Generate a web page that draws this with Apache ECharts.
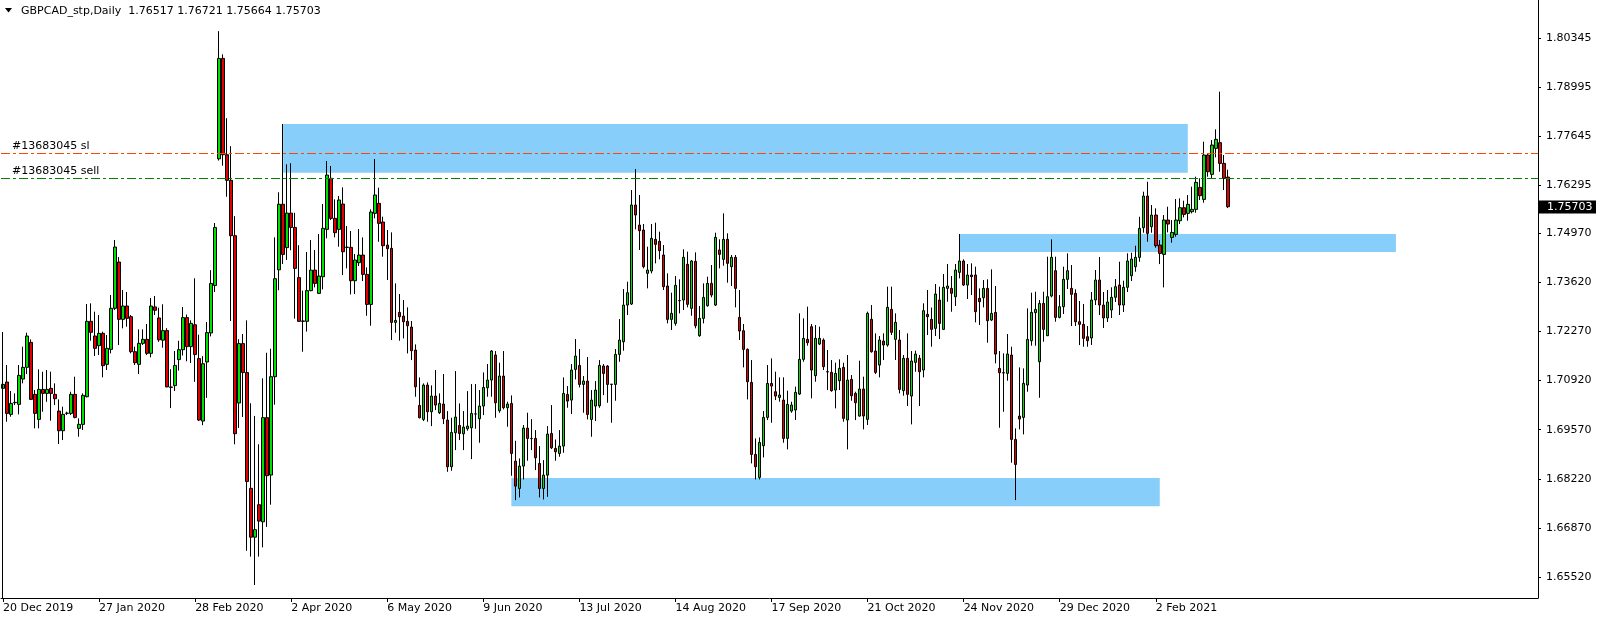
<!DOCTYPE html>
<html><head><meta charset="utf-8">
<script src="https://cdn.jsdelivr.net/npm/echarts@6/dist/echarts.min.js"></script>
<style>html,body{margin:0;padding:0;background:#fff}#c{width:1604px;height:620px}</style>
</head><body><div id="c"></div>
<script>
const symbolName = 'GBPCAD_stp,Daily';
const opens = [1.70707,1.70881,1.69992,1.70313,1.70267,1.70964,1.71285,1.71972,1.70542,1.69854,
1.70679,1.70569,1.70707,1.70542,1.70083,1.69542,1.70019,1.70019,1.70542,1.69607,
1.69717,1.70478,1.72550,1.72147,1.71881,1.72220,1.71367,1.71780,1.72908,1.74182,
1.72605,1.72972,1.72679,1.71716,1.71367,1.71945,1.72055,1.71670,1.72947,1.72643,
1.72033,1.72296,1.70735,1.70784,1.71498,1.71770,1.72653,1.71855,1.72456,1.71526,
1.69808,1.71432,1.72230,1.73535,1.77019,1.79780,1.77132,1.76428,1.74906,1.70305,
1.71939,1.71141,1.67958,1.66615,1.67508,1.67038,1.69902,1.68324,1.71028,1.73967,
1.75770,1.74578,1.75526,1.75132,1.73752,1.72550,1.72550,1.73395,1.73961,1.73319,
1.73777,1.75080,1.76483,1.75382,1.75080,1.75776,1.74584,1.74584,1.73667,1.74163,
1.74373,1.73842,1.73016,1.75520,1.75795,1.75281,1.74649,1.74557,1.72521,1.72796,
1.72695,1.72549,1.72393,1.71760,1.70238,1.69853,1.70797,1.70064,1.70495,1.70036,
1.70275,1.69834,1.68551,1.69486,1.69688,1.69458,1.69596,1.69623,1.69999,1.69871,
1.70220,1.70724,1.70935,1.71623,1.70091,1.71045,1.70174,1.70293,1.68706,1.67955,
1.68569,1.69614,1.69330,1.69330,1.68642,1.67955,1.68321,1.69468,1.69055,1.68917,
1.69119,1.70540,1.70385,1.71228,1.71338,1.70816,1.70907,1.69853,1.70220,1.70229,
1.71320,1.71320,1.70816,1.70816,1.71641,1.71989,1.72998,1.73026,1.75749,1.75199,
1.75062,1.73870,1.73934,1.74805,1.74750,1.74374,1.73521,1.72604,1.72494,1.73118,
1.73136,1.74117,1.72907,1.74200,1.72155,1.72632,1.72980,1.73594,1.72998,1.74512,
1.74255,1.74805,1.74053,1.74310,1.72659,1.72292,1.71779,1.70871,1.68890,1.68258,
1.69129,1.69908,1.70843,1.70614,1.70459,1.70386,1.69331,1.70083,1.70111,1.70551,
1.71505,1.72055,1.72403,1.71055,1.71926,1.72036,1.71165,1.71147,1.70661,1.70918,
1.71284,1.69836,1.70954,1.70569,1.69946,1.70688,1.69854,1.72605,1.71734,1.71349,
1.72009,1.71899,1.72880,1.72055,1.72036,1.70643,1.71532,1.70496,1.71422,1.71532,
1.71211,1.72742,1.72605,1.72357,1.73136,1.72329,1.73457,1.73457,1.73228,1.73897,
1.74209,1.73549,1.73824,1.73824,1.73182,1.73200,1.73457,1.72586,1.72797,1.71256,
1.71137,1.71119,1.71623,1.69303,1.69945,1.69908,1.70798,1.72017,1.72788,1.71440,
1.73044,1.72155,1.73246,1.73943,1.72659,1.72953,1.73705,1.73457,1.73320,1.72540,
1.72467,1.72127,1.72092,1.73137,1.73687,1.72999,1.72642,1.72862,1.73211,1.73549,
1.72999,1.73486,1.73805,1.74053,1.74309,1.75125,1.75996,1.75152,1.75473,1.74648,
1.74391,1.75336,1.74859,1.74941,1.75317,1.75675,1.75519,1.75565,1.75629,1.76234,
1.75904,1.77124,1.76592,1.77307,1.77463,1.76894,1.76517];
const highs = [1.71028,1.71349,1.70634,1.70569,1.71349,1.71853,1.72238,1.72055,1.70661,1.71230,
1.71166,1.71211,1.71166,1.70845,1.70404,1.70203,1.70065,1.70615,1.71028,1.69882,
1.70569,1.73027,1.73045,1.72816,1.72724,1.72266,1.72174,1.73275,1.74787,1.74319,
1.73412,1.73357,1.72724,1.71853,1.72330,1.72330,1.72477,1.73192,1.73247,1.72925,
1.73019,1.72362,1.71235,1.71733,1.72014,1.72944,1.72737,1.72578,1.73733,1.72183,
1.71592,1.72531,1.73958,1.75254,1.80531,1.79892,1.78137,1.77367,1.75442,1.72061,
1.72202,1.72578,1.70296,1.69949,1.69169,1.70982,1.71686,1.71798,1.74860,1.76099,
1.77977,1.76869,1.76897,1.75536,1.74644,1.73395,1.74456,1.74785,1.74511,1.74951,
1.75776,1.76959,1.76822,1.75905,1.75997,1.76235,1.75171,1.75034,1.74401,1.75089,
1.74859,1.74034,1.75630,1.77014,1.76226,1.75428,1.75061,1.74997,1.73594,1.73301,
1.73136,1.72934,1.72558,1.71916,1.71008,1.70843,1.70871,1.70788,1.71210,1.70568,
1.71100,1.70082,1.69899,1.71182,1.70293,1.70082,1.70632,1.70825,1.70825,1.70660,
1.71146,1.71375,1.71760,1.71733,1.71412,1.71733,1.70339,1.70513,1.69266,1.68780,
1.69697,1.70036,1.69862,1.69559,1.69119,1.68734,1.69669,1.70247,1.69302,1.69559,
1.71008,1.70770,1.71375,1.72063,1.71788,1.71045,1.71568,1.70660,1.70907,1.71485,
1.71375,1.71347,1.70825,1.71788,1.72613,1.73438,1.73640,1.76162,1.76740,1.76025,
1.75227,1.74603,1.75227,1.75263,1.75016,1.74649,1.73870,1.73338,1.73796,1.73705,
1.74530,1.74466,1.74236,1.74447,1.72971,1.73594,1.73778,1.74099,1.74988,1.74805,
1.75520,1.74970,1.74374,1.74374,1.73411,1.72476,1.71806,1.71485,1.69330,1.69358,
1.70083,1.71348,1.71531,1.71165,1.71009,1.71009,1.70643,1.70340,1.70753,1.72770,
1.72632,1.72953,1.72477,1.72449,1.72403,1.72082,1.71761,1.71486,1.71413,1.71505,
1.71413,1.71624,1.71074,1.70615,1.71468,1.71028,1.72816,1.72999,1.72220,1.72146,
1.72220,1.73504,1.73504,1.72770,1.72311,1.71624,1.72220,1.71734,1.71743,1.71624,
1.73045,1.73412,1.72930,1.73576,1.73503,1.73851,1.74127,1.73796,1.74127,1.74952,
1.74255,1.74127,1.74145,1.74053,1.73457,1.73686,1.73705,1.73980,1.73521,1.71733,
1.71669,1.72201,1.71852,1.69606,1.71284,1.71256,1.72907,1.73338,1.73365,1.73136,
1.73365,1.74328,1.74805,1.74328,1.73274,1.74053,1.74420,1.74099,1.73430,1.73109,
1.73026,1.72421,1.73357,1.73962,1.74320,1.73357,1.73412,1.73486,1.73715,1.74190,
1.73668,1.74421,1.74438,1.74630,1.75427,1.76115,1.76390,1.75748,1.75657,1.74785,
1.75473,1.75702,1.75336,1.75913,1.75932,1.75867,1.76023,1.76253,1.76528,1.76482,
1.77491,1.77170,1.77536,1.77830,1.78866,1.77124,1.76721];
const lows = [1.70615,1.69790,1.69928,1.70248,1.69992,1.70845,1.71101,1.70386,1.69607,1.69607,
1.70065,1.70340,1.69818,1.70248,1.69176,1.69286,1.69973,1.69973,1.69882,1.69377,
1.69561,1.70459,1.72018,1.71596,1.71624,1.71010,1.71211,1.71670,1.72862,1.71899,
1.72358,1.72403,1.71670,1.71349,1.71101,1.71899,1.71624,1.71560,1.72724,1.71986,
1.71826,1.70740,1.70164,1.70634,1.71197,1.71610,1.71451,1.71404,1.70887,1.69808,
1.69695,1.70446,1.72136,1.73357,1.76972,1.76831,1.75977,1.72559,1.69169,1.69620,
1.69920,1.66240,1.66080,1.65300,1.66080,1.66333,1.66897,1.67508,1.70258,1.73404,
1.74127,1.74240,1.74503,1.72625,1.72540,1.71714,1.72268,1.73376,1.73484,1.73301,
1.73429,1.74832,1.75336,1.74860,1.74603,1.73823,1.74007,1.73291,1.73301,1.74071,
1.73658,1.72704,1.72429,1.75382,1.74740,1.74328,1.73686,1.72035,1.72237,1.72017,
1.72081,1.71668,1.71485,1.70476,1.69880,1.69807,1.69789,1.69669,1.70109,1.70000,
1.69724,1.68413,1.68441,1.69009,1.69284,1.69009,1.69541,1.68761,1.69596,1.69211,
1.69972,1.70476,1.70476,1.69899,1.70036,1.70128,1.69651,1.68303,1.67634,1.67707,
1.68202,1.68716,1.69009,1.68459,1.67707,1.67652,1.67725,1.69037,1.68716,1.68826,
1.68936,1.70174,1.69999,1.70953,1.70733,1.70036,1.69853,1.69376,1.69807,1.70174,
1.70522,1.70311,1.69761,1.70366,1.71439,1.71742,1.72723,1.72998,1.75080,1.74512,
1.74007,1.73457,1.73870,1.74145,1.74255,1.73411,1.72494,1.72311,1.72430,1.72769,
1.72861,1.72934,1.72705,1.72357,1.72127,1.72494,1.72953,1.73209,1.72971,1.74007,
1.74081,1.73613,1.73521,1.72934,1.72036,1.71284,1.70403,1.68643,1.68202,1.68202,
1.68808,1.69835,1.69761,1.70385,1.70340,1.69212,1.69029,1.70037,1.69836,1.70523,
1.71440,1.71881,1.70432,1.70890,1.71899,1.71211,1.70661,1.70615,1.70157,1.70661,
1.69790,1.69029,1.70367,1.69836,1.69927,1.69579,1.69698,1.71688,1.71101,1.71009,
1.71486,1.71853,1.72174,1.71486,1.70569,1.70505,1.70221,1.69716,1.71165,1.70221,
1.71009,1.72174,1.71853,1.72146,1.72063,1.72311,1.73090,1.72815,1.72971,1.73732,
1.73521,1.73164,1.73274,1.72522,1.72448,1.72934,1.71962,1.72558,1.71394,1.69624,
1.70064,1.70917,1.68661,1.67634,1.69578,1.69441,1.70614,1.71880,1.71880,1.70449,
1.71990,1.72146,1.73210,1.72540,1.72632,1.72751,1.73439,1.72421,1.72421,1.71898,
1.71852,1.71852,1.71900,1.72999,1.72724,1.72367,1.72532,1.72642,1.73082,1.72724,
1.72807,1.73357,1.73660,1.73915,1.74189,1.74987,1.74740,1.74987,1.74574,1.74125,
1.73483,1.74996,1.74712,1.74877,1.75226,1.75409,1.75317,1.75519,1.75537,1.75886,
1.75812,1.76528,1.76464,1.77060,1.76665,1.76161,1.75664];
const closes = [1.70817,1.70019,1.70294,1.70322,1.71065,1.71285,1.72147,1.70404,1.70019,1.70679,
1.70569,1.70679,1.70569,1.70423,1.69542,1.69992,1.70025,1.70542,1.69909,1.69717,
1.70514,1.72550,1.72248,1.71807,1.72220,1.71331,1.71807,1.72908,1.74594,1.72605,
1.72972,1.72633,1.71716,1.71413,1.71945,1.72055,1.71670,1.72972,1.72854,1.72042,
1.72296,1.70747,1.70745,1.71338,1.71770,1.72653,1.71855,1.72493,1.71639,1.69836,
1.71385,1.72240,1.73592,1.75132,1.79780,1.77132,1.76428,1.74906,1.69460,1.71939,
1.71141,1.68146,1.66615,1.66822,1.67057,1.69902,1.68305,1.71028,1.73723,1.75770,
1.74390,1.75526,1.75132,1.74005,1.72550,1.72560,1.73395,1.73958,1.73594,1.73796,
1.75107,1.76574,1.75382,1.74988,1.75887,1.74465,1.74590,1.73667,1.74236,1.74373,
1.73842,1.73016,1.75556,1.76024,1.75245,1.74630,1.74548,1.72521,1.72576,1.72677,
1.72540,1.72429,1.71742,1.70751,1.69899,1.70797,1.70064,1.70495,1.70247,1.70293,
1.69871,1.68551,1.69495,1.69917,1.69467,1.69642,1.69669,1.70018,1.70005,1.70220,
1.70733,1.70935,1.71733,1.70311,1.71045,1.70174,1.70275,1.68917,1.68019,1.68569,
1.69614,1.69330,1.69325,1.68798,1.67955,1.68321,1.69449,1.69073,1.68963,1.69119,
1.70568,1.70357,1.71210,1.71595,1.70816,1.70907,1.69990,1.70385,1.70660,1.71338,
1.71118,1.70816,1.70822,1.71641,1.72035,1.72998,1.73338,1.75749,1.75474,1.75043,
1.74053,1.73961,1.74832,1.74667,1.74493,1.73503,1.72604,1.72769,1.73540,1.73124,
1.74310,1.73017,1.74209,1.72430,1.72632,1.73209,1.73594,1.73274,1.74860,1.74392,
1.74805,1.74145,1.74310,1.73457,1.72283,1.71779,1.70889,1.68890,1.68551,1.69220,
1.69908,1.70843,1.70770,1.70495,1.70523,1.69331,1.70267,1.70248,1.70597,1.71505,
1.72082,1.71963,1.71211,1.72082,1.72082,1.71303,1.71160,1.70643,1.71119,1.71257,
1.69881,1.70936,1.70505,1.70312,1.70688,1.69946,1.72770,1.71715,1.71147,1.72036,
1.71899,1.72935,1.72247,1.72522,1.70679,1.71532,1.70542,1.71459,1.71651,1.71165,
1.72843,1.72678,1.72330,1.73301,1.72494,1.73485,1.73521,1.73320,1.73961,1.74209,
1.73549,1.73824,1.73778,1.72815,1.73090,1.73457,1.72568,1.72769,1.71651,1.71137,
1.71130,1.71651,1.69303,1.68615,1.69863,1.70844,1.72054,1.72797,1.72879,1.73044,
1.72329,1.73228,1.74310,1.72659,1.72953,1.73705,1.73943,1.73292,1.72540,1.72467,
1.72082,1.72017,1.73137,1.73687,1.72999,1.72642,1.73082,1.73211,1.73503,1.72999,
1.73486,1.74209,1.74264,1.74311,1.75106,1.75996,1.74969,1.75473,1.74630,1.74419,
1.75336,1.75226,1.74996,1.75336,1.75675,1.75491,1.75767,1.75629,1.76372,1.76005,
1.77124,1.76665,1.77399,1.77555,1.76894,1.76482,1.75703];

const dateTickLabels = ['20 Dec 2019','27 Jan 2020','28 Feb 2020','2 Apr 2020','6 May 2020','9 Jun 2020','13 Jul 2020','14 Aug 2020','17 Sep 2020','21 Oct 2020','24 Nov 2020','29 Dec 2020','2 Feb 2021'];
const barsPerDateLabel = 24;
const totalSlots = 384;
const priceTicks = [1.80345,1.78995,1.77645,1.76295,1.74970,1.73620,1.72270,1.70920,1.69570,1.68220,1.66870,1.65520];
const priceMin = 1.64942, priceMax = 1.81387;

const zoneStart = [70, 239, 127];
const zoneEnd = [296, 348, 289];
const zoneTop = [1.77977, 1.74952, 1.68242];
const zoneBottom = [1.76638, 1.74457, 1.67464];

const orderNames = ['#13683045 sl', '#13683045 sell'];
const orderPrices = [1.77171, 1.76484];
const orderColors = ['#FF4500', '#008000'];

const FONT = '"DejaVu Sans", Tahoma, sans-serif';
const categories = Array.from({length: totalSlots}, (_, i) => String(i));
const candleData = opens.map((o, i) => [o, closes[i], lows[i], highs[i]]);
const showDate = (i) => i % barsPerDateLabel === 0 && i < opens.length;

const chart = echarts.init(document.getElementById('c'), null, {renderer: 'canvas'});
const option = {
  animation: false,
  backgroundColor: '#ffffff',
  grid: {left: 1, right: 66, top: 0, bottom: 22, containLabel: false},
  xAxis: {
    type: 'category', data: categories, boundaryGap: true,
    axisLine: {show: true, lineStyle: {color: '#000', width: 1}},
    axisTick: {show: true, alignWithLabel: true, interval: showDate, length: 4, lineStyle: {color: '#000'}},
    axisLabel: {interval: showDate, formatter: (v, i) => dateTickLabels[Math.round(Number(v) / barsPerDateLabel)],
      align: 'left', margin: 5, color: '#000', fontFamily: FONT, fontSize: 11},
    splitLine: {show: false}
  },
  yAxis: {
    type: 'value', position: 'right', min: priceMin, max: priceMax,
    axisLine: {show: true, lineStyle: {color: '#000', width: 1}},
    axisTick: {show: true, customValues: priceTicks, length: 3, lineStyle: {color: '#000'}},
    axisLabel: {customValues: priceTicks, formatter: v => Number(v).toFixed(5), margin: 8,
      color: '#000', fontFamily: FONT, fontSize: 11},
    splitLine: {show: false}
  },
  series: [
    {type: 'line', data: [], z: 1, silent: true,
     markArea: {silent: true, itemStyle: {color: '#87CEFA', opacity: 1}, label: {show: false},
       data: zoneStart.map((s, k) => [{xAxis: s, yAxis: zoneTop[k]}, {xAxis: zoneEnd[k], yAxis: zoneBottom[k]}])}},
    {type: 'candlestick', z: 3, data: candleData, barWidth: 3, silent: true,
     itemStyle: {color: '#00E000', color0: '#E00000', borderColor: '#000', borderColor0: '#000', borderColorDoji: '#000', borderWidth: 1}},
    {type: 'line', data: [], z: 4, silent: true,
     markLine: {silent: true, symbol: 'none', precision: 5, label: {show: false}, animation: false,
       data: orderPrices.map((p, k) => ({yAxis: p, lineStyle: {color: orderColors[k], width: 1, type: [9, 3, 3, 3]}}))}}
  ]
};
chart.setOption(option);

const py = v => chart.convertToPixel({yAxisIndex: 0}, v);
const px = i => chart.convertToPixel({xAxisIndex: 0}, i);
const last = opens.length - 1;
const headerText = symbolName + '  ' + opens[last].toFixed(5) + ' ' + highs[last].toFixed(5) + ' ' + lows[last].toFixed(5) + ' ' + closes[last].toFixed(5);
const elements = [];
elements.push({type: 'polygon', shape: {points: [[5, 8], [12, 8], [8.5, 12.5]]}, style: {fill: '#000'}, z: 100});
elements.push({type: 'text', x: 21, y: 11, style: {text: headerText, fill: '#000', font: '11px ' + FONT, textVerticalAlign: 'middle'}, z: 100});
orderNames.forEach((n, k) => {
  elements.push({type: 'text', x: 12, y: Math.round(py(orderPrices[k])) - 7, style: {text: n, fill: '#000', font: '11px ' + FONT, textVerticalAlign: 'middle'}, z: 100});
});
const cy = Math.round(py(closes[last]));
elements.push({type: 'rect', shape: {x: 1539, y: cy - 6.5, width: 57, height: 13}, style: {fill: '#000'}, z: 100});
elements.push({type: 'text', x: 1547, y: cy, style: {text: closes[last].toFixed(5), fill: '#fff', font: '11px ' + FONT, textVerticalAlign: 'middle'}, z: 101});
const x0 = Math.round(px(0)) - 0.5;
elements.push({type: 'line', shape: {x1: x0, y1: 332, x2: x0, y2: 598}, style: {stroke: '#000', lineWidth: 1}, z: 50});
chart.setOption({graphic: {elements: elements}});
</script>
</body></html>
